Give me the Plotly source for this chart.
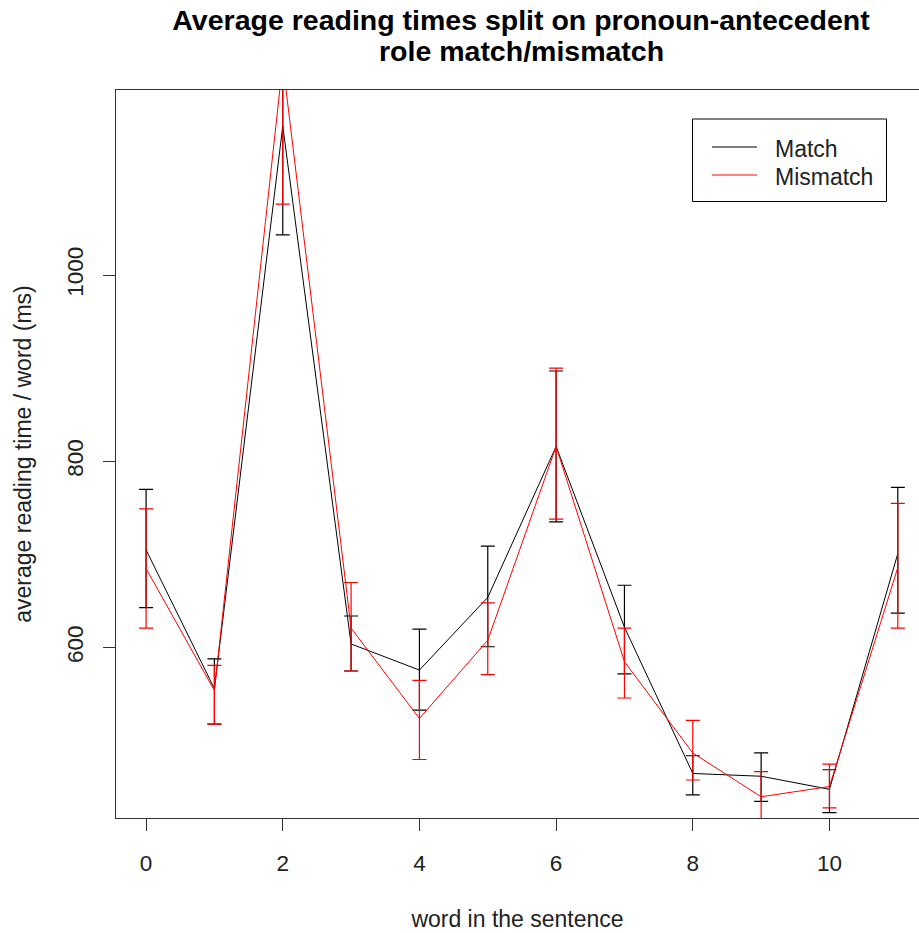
import plotly.graph_objects as go

words = list(range(12))
x_ticks = [0, 2, 4, 6, 8, 10]
y_ticks = [600, 800, 1000]

match_mean = [705, 556, 1160, 604, 576, 654, 816, 622, 465, 462, 448, 701]
match_upper = [770, 588, 1277, 634, 620, 709, 897, 667, 484, 487, 469, 772]
match_lower = [643, 518, 1043, 575, 533, 601, 735, 572, 442, 435, 423, 637]

mismatch_mean = [685, 554, 1228, 621, 524, 608, 816, 585, 487, 440, 451, 686]
mismatch_upper = [749, 581, 1380, 670, 565, 648, 900, 621, 522, 467, 475, 755]
mismatch_lower = [621, 518, 1076, 575, 480, 571, 738, 546, 458, 413, 428, 621]

FONT = "Liberation Sans, Arial, sans-serif"
W, H = 919, 933
L, T, PW, PH = 116, 90, 803, 728


def px(xp):
    return (xp - 116) / PW


def py(yp):
    return (818 - yp) / PH


fig = go.Figure()


def add_series(name, mean, upper, lower, color):
    fig.add_trace(go.Scatter(
        x=words, y=mean, name=name, mode="lines",
        line=dict(color=color, width=1),
        error_y=dict(type="data", symmetric=False,
                     array=[u - m for u, m in zip(upper, mean)],
                     arrayminus=[m - l for m, l in zip(mean, lower)],
                     color=color, thickness=1.2, width=7),
        showlegend=False,
    ))


add_series("Match", match_mean, match_upper, match_lower, "black")
add_series("Mismatch", mismatch_mean, mismatch_upper, mismatch_lower, "red")

# manual legend (R style)
fig.add_shape(type="rect", xref="paper", yref="paper",
              x0=px(692.5), x1=px(886.5), y0=py(201.5), y1=py(119),
              line=dict(color="black", width=1), fillcolor="white")
for i, (lab, col) in enumerate([("Match", "black"), ("Mismatch", "red")]):
    yc = 147 + i * 28
    fig.add_shape(type="line", xref="paper", yref="paper",
                  x0=px(712), x1=px(757), y0=py(yc), y1=py(yc),
                  line=dict(color=col, width=1))
    fig.add_annotation(text=lab, xref="paper", yref="paper",
                       x=px(773), y=py(yc + 2),
                       xanchor="left", yanchor="middle", showarrow=False,
                       font=dict(family=FONT, size=23, color="#222"))

# second title line
fig.add_annotation(text="<b>role match/mismatch</b>", xref="paper", yref="paper",
                   x=px(521), y=py(51), xanchor="center", yanchor="middle",
                   showarrow=False, font=dict(family=FONT, size=28.5, color="black"))

fig.update_layout(
    width=W, height=H,
    margin=dict(l=L, r=0, t=T, b=H - T - PH),
    plot_bgcolor="white", paper_bgcolor="white",
    title=dict(text="<b>Average reading times split on pronoun-antecedent</b>",
               x=px(521), xref="paper", xanchor="center",
               y=1 - 20 / H, yref="container", yanchor="middle",
               font=dict(family=FONT, size=28.5, color="black")),
    font=dict(family=FONT, size=22, color="#222"),
)
fig.update_xaxes(range=[-0.44, 11.31], tickvals=x_ticks, ticks="outside", ticklen=12,
                 tickcolor="#333", showline=True, linecolor="#333", linewidth=1,
                 mirror=True, showgrid=False, zeroline=False, ticklabelstandoff=13,
                 tickfont=dict(family=FONT, size=22.5, color="#222"),
                 title=dict(text="word in the sentence", standoff=35,
                            font=dict(family=FONT, size=23, color="#222")))
fig.update_yaxes(range=[417.2, 1198.6], tickvals=y_ticks, ticks="outside", ticklen=12,
                 tickcolor="#333", showline=True, linecolor="#333", linewidth=1,
                 mirror=False, showgrid=False, zeroline=False, tickangle=-90,
                 ticklabelstandoff=11,
                 tickfont=dict(family=FONT, size=22.5, color="#222"),
                 title=dict(text="average reading time / word (ms)", standoff=24,
                            font=dict(family=FONT, size=23, color="#222")))

fig.write_html("out.html", config={"displayModeBar": False},
               post_script="document.body.style.margin='0';document.body.style.overflow='hidden';")
